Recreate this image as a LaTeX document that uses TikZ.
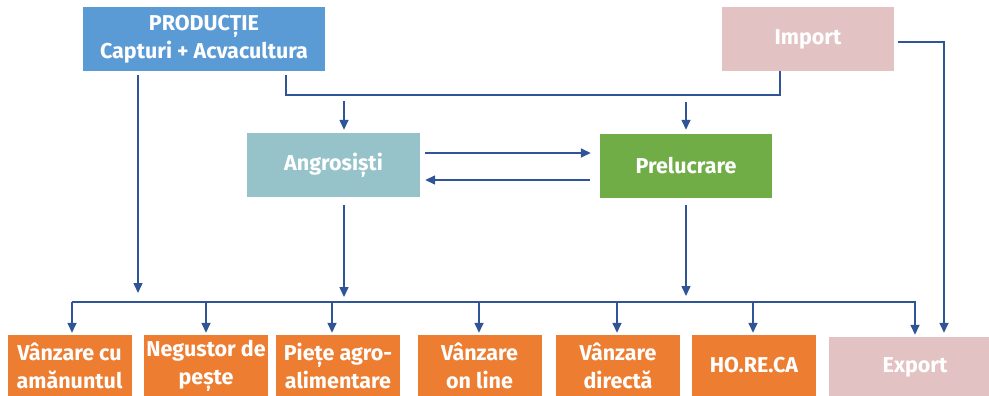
\documentclass[tikz,border=0pt]{standalone}
\usepackage{fontspec}
\setmainfont{Fira Sans}
\usepackage{tikz}
\usetikzlibrary{positioning,arrows.meta}

\definecolor{prodblue}{HTML}{5B9BD5}
\definecolor{tradepink}{HTML}{E2C2C3}
\definecolor{angrteal}{HTML}{95C3C9}
\definecolor{prelgreen}{HTML}{70AD47}
\definecolor{outorange}{HTML}{ED7D31}
\definecolor{linkblue}{HTML}{2F5597}

\tikzset{
    box/.style={minimum width=#1,minimum height=64pt,inner sep=0pt,align=center,
        text=white,font=\bfseries\fontsize{21.5}{28}\selectfont},
    box/.default=172pt,
    link/.style={draw=linkblue,line width=1.5pt},
    arr/.style={link,-{Triangle[length=10pt,width=9pt]}}
}

\begin{document}
\begin{tikzpicture}[x=1pt,y=-1pt]
            \clip (0,0) rectangle (989,396);
            \node[box=242pt,fill=prodblue] (prod) at (204,39.5) {PRODUCȚIE\\Capturi + Acvacultura};
            \node[box,fill=tradepink] (import) at (808,39) {Import};
            \node[box=173pt,fill=angrteal] (angr) at (333.5,165) {Angrosiști};
            \node[box,fill=prelgreen] (prel) at (686,166) {Prelucrare};
            \foreach \x/\name/\txt in {69.5/retail/{Vânzare cu\\amănuntul},206/monger/{Negustor de\\pește},
                338/market/{Piețe agro-\\alimentare},479.5/online/{Vânzare\\on line},
                618/direct/{Vânzare\\directă},754/horeca/{HO.RE.CA}}{
                \node[box=124pt,minimum height=61pt,fill=outorange] (\name) at (\x,365.5) {\txt};
            }
            \node[box,minimum height=61pt,fill=tradepink] (export) at (915,367.5) {Export};

            \coordinate (jl) at (286,95);
            \coordinate (jr) at (780,95);
            \draw[link,shorten <=3pt] (prod.south -| jl) -- (jl) -- (jr) -- (import.south -| jr);
            \draw[arr,shorten >=3pt] (344,101) -- (344,101 |- angr.north);
            \draw[arr,shorten >=4pt] (prel.north |- 0,102) -- (prel.north);

            \draw[arr,shorten <=5pt,shorten >=9pt] ([yshift=12pt]angr.east) -- ([yshift=12pt]angr.east -| prel.west);
            \draw[arr,shorten <=10pt,shorten >=5pt] ([yshift=-14pt]prel.west) -- ([yshift=-14pt]prel.west -| angr.east);

            \coordinate (ex) at (944,42);
            \draw[arr,shorten <=4pt,shorten >=4pt] (import.east |- ex) -- (ex) -- (ex |- export.north);

            \coordinate (busL) at (72,302);
            \coordinate (busR) at (916,302);
            \draw[link] (busL) -- (busR);
            \draw[arr,shorten <=3pt,shorten >=9pt] (prod.south -| 138,0) -- (138,302);
            \draw[arr,shorten <=8pt,shorten >=5pt] (angr.south -| 344,0) -- (344,302);
            \draw[arr,shorten <=7pt,shorten >=6pt] (prel.south) -- (prel.south |- busL);
            \foreach \x/\name in {72/retail,206/monger,332/market,479/online,617/direct,753/horeca,915/export}{
                \draw[arr,shorten >=2pt] (\x,302) -- (\x,302 |- \name.north);
            }
        \end{tikzpicture}
\end{document}
